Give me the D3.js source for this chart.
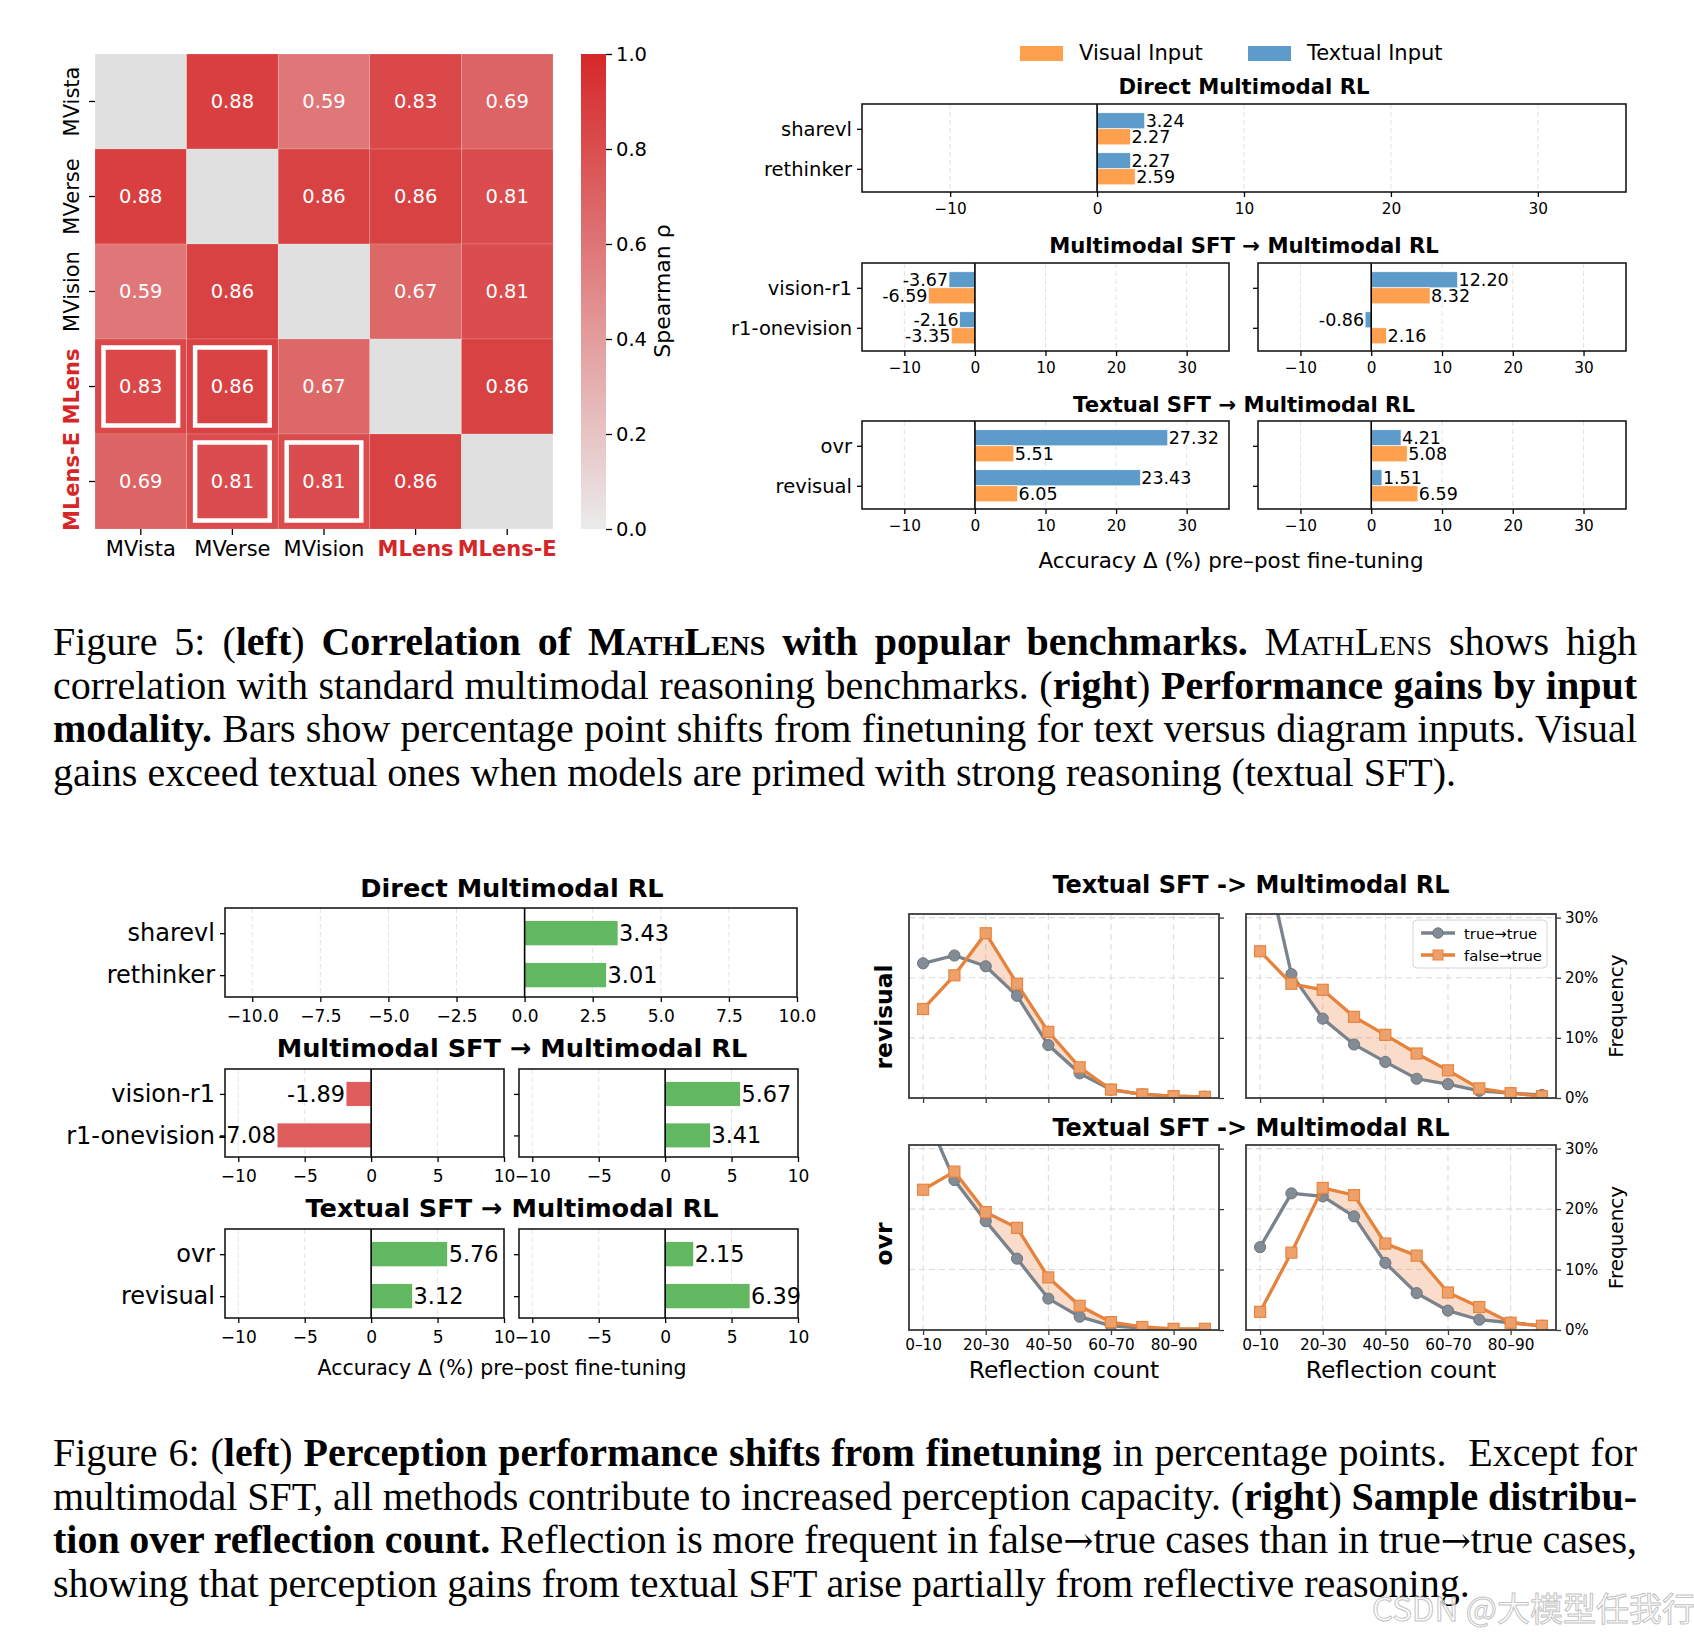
<!DOCTYPE html>
<html><head><meta charset="utf-8">
<script src="https://cdn.jsdelivr.net/npm/d3@7"></script>
<style>body{margin:0;background:#fff} svg{display:block}</style>
</head><body>
<svg id="c" width="1694" height="1637"></svg>
<script>
// ================= DATA =================
// Figure 5 (left): Spearman correlation heatmap
const hmLabels = ["MVista", "MVerse", "MVision", "MLens", "MLens-E"];
const hmRedLabels = ["MLens", "MLens-E"];
const hmRowMVista  = [null, 0.88, 0.59, 0.83, 0.69];
const hmRowMVerse  = [0.88, null, 0.86, 0.86, 0.81];
const hmRowMVision = [0.59, 0.86, null, 0.67, 0.81];
const hmRowMLens   = [0.83, 0.86, 0.67, null, 0.86];
const hmRowMLensE  = [0.69, 0.81, 0.81, 0.86, null];
const hmHighlight = [[3, 0], [3, 1], [4, 1], [4, 2]];
const cbTicks = [0, 0.2, 0.4, 0.6, 0.8, 1.0];

// Figure 5 (right): gains by input modality
const modTitles = ["Direct Multimodal RL", "Multimodal SFT \u2192 Multimodal RL", "Textual SFT \u2192 Multimodal RL"];
const modCats1 = ["sharevl", "rethinker"];
const modTextual1 = [3.24, 2.27];
const modVisual1 = [2.27, 2.59];
const modCats2 = ["vision-r1", "r1-onevision"];
const modTextual2L = [-3.67, -2.16];
const modVisual2L = [-6.59, -3.35];
const modTextual2R = [12.20, -0.86];
const modVisual2R = [8.32, 2.16];
const modCats3 = ["ovr", "revisual"];
const modTextual3L = [27.32, 23.43];
const modVisual3L = [5.51, 6.05];
const modTextual3R = [4.21, 1.51];
const modVisual3R = [5.08, 6.59];
const modTicks = [-10, 0, 10, 20, 30];
const modLegend = ["Visual Input", "Textual Input"];

// Figure 6 (left): perception shifts
const percCats1 = ["sharevl", "rethinker"];
const perc1 = [3.43, 3.01];
const percCats2 = ["vision-r1", "r1-onevision"];
const perc2L = [-1.89, -7.08];
const perc2R = [5.67, 3.41];
const percCats3 = ["ovr", "revisual"];
const perc3L = [5.76, 3.12];
const perc3R = [2.15, 6.39];
const percTicksA = [-10, -7.5, -5, -2.5, 0, 2.5, 5, 7.5, 10];
const percTicksB = [-10, -5, 0, 5, 10];

// Figure 6 (right): reflection count distribution (%)
const reflBins = ["0\u201310", "10\u201320", "20\u201330", "30\u201340", "40\u201350", "50\u201360", "60\u201370", "70\u201380", "80\u201390", "90\u2013100"];
const reflTitle = "Textual SFT -> Multimodal RL";
const reflRows = ["revisual", "ovr"];
const revisualLeftTT  = [22.4, 23.7, 21.9, 17.0, 8.8, 4.1, 1.4, 0.6, 0.3, 0.2];
const revisualLeftFT  = [14.8, 20.4, 27.4, 19.0, 11.0, 5.1, 1.4, 0.6, 0.3, 0.2];
const revisualRightTT = [43.5, 20.6, 13.2, 8.9, 6.0, 3.2, 2.3, 1.2, 0.8, 0.5];
const revisualRightFT = [24.4, 19.0, 18.0, 13.5, 10.5, 7.4, 4.6, 1.6, 0.8, 0.3];
const ovrLeftTT  = [36.7, 24.8, 18.0, 11.8, 5.2, 2.2, 0.7, 0.3, 0.1, 0.1];
const ovrLeftFT  = [23.2, 26.2, 19.5, 16.9, 8.7, 4.0, 1.3, 0.5, 0.2, 0.2];
const ovrRightTT = [13.7, 22.6, 22.1, 18.8, 11.1, 6.1, 3.2, 1.7, 1.2, 0.7];
const ovrRightFT = [3.0, 12.8, 23.5, 22.3, 14.3, 12.3, 6.2, 3.8, 1.2, 0.7];
const freqTicks = [0, 10, 20, 30];
const reflLegend = ["true\u2192true", "false\u2192true"];

// ================= DRAWING =================
const svg = d3.select("#c");
const FONT = "DejaVu Sans, sans-serif";
const SERIF = "Liberation Serif, 'Times New Roman', serif";
const C_BLUE = "#5d9cca", C_ORANGE = "#ffa04f", C_GREEN = "#61b861", C_RED = "#e05d5e";
const C_GRAYL = "#7a838c", C_ORL = "#e6823c";

function styleAxis(sel, fs, tickColor) {
  sel.select(".domain").remove();
  sel.attr("font-family", null).attr("font-size", null);
  sel.selectAll(".tick line").attr("stroke", tickColor || "#000").attr("stroke-width", 1.3);
  sel.selectAll(".tick text").attr("font-family", FONT).attr("font-size", fs).attr("fill", "#000");
}

// ---------- Heatmap ----------
(function () {
  const M = [hmRowMVista, hmRowMVerse, hmRowMVision, hmRowMLens, hmRowMLensE];
  const hx = d3.scaleBand().domain(d3.range(5)).range([95, 553]);
  const hy = d3.scaleBand().domain(d3.range(5)).range([54, 529]);
  const col = d3.scaleLinear().domain([0, 1]).range(["#ebebeb", "#d62728"]).interpolate(d3.interpolateRgb);
  const g = svg.append("g");
  const cells = [];
  M.forEach((row, r) => row.forEach((v, c) => cells.push({ r, c, v })));
  g.selectAll("rect.cell").data(cells).join("rect")
    .attr("x", d => hx(d.c)).attr("y", d => hy(d.r))
    .attr("width", hx.bandwidth()).attr("height", hy.bandwidth())
    .attr("fill", d => d.v == null ? "#e0e0e0" : col(d.v))
    .attr("stroke", "rgba(255,255,255,0.25)").attr("stroke-width", 0.6);
  g.selectAll("text.ann").data(cells.filter(d => d.v != null)).join("text")
    .attr("x", d => hx(d.c) + hx.bandwidth() / 2).attr("y", d => hy(d.r) + hy.bandwidth() / 2)
    .attr("text-anchor", "middle").attr("dominant-baseline", "central")
    .attr("font-family", FONT).attr("font-size", 19.5).attr("fill", "#fff")
    .text(d => d.v.toFixed(2));
  const ins = 8.5;
  g.selectAll("rect.hl").data(hmHighlight).join("rect")
    .attr("x", d => hx(d[1]) + ins).attr("y", d => hy(d[0]) + ins)
    .attr("width", hx.bandwidth() - 2 * ins).attr("height", hy.bandwidth() - 2 * ins)
    .attr("fill", "none").attr("stroke", "#fff").attr("stroke-width", 4.5);
  const ax = g.append("g").attr("transform", "translate(0,529)")
    .call(d3.axisBottom(hx).tickFormat(i => hmLabels[i]).tickSize(6).tickPadding(6));
  styleAxis(ax, 21);
  ax.selectAll(".tick text").attr("fill", i => hmRedLabels.includes(hmLabels[i]) ? "#d62728" : "#000")
    .attr("font-weight", i => hmRedLabels.includes(hmLabels[i]) ? "bold" : "normal");
  const ay = g.append("g").attr("transform", "translate(95,0)")
    .call(d3.axisLeft(hy).tickFormat("").tickSize(6));
  styleAxis(ay, 21);
  g.selectAll("text.ylab").data(hmLabels).join("text")
    .attr("transform", (d, i) => `translate(72,${hy(i) + hy.bandwidth() / 2}) rotate(-90)`)
    .attr("text-anchor", "middle").attr("dominant-baseline", "central")
    .attr("font-family", FONT).attr("font-size", 21)
    .attr("font-weight", d => hmRedLabels.includes(d) ? "bold" : "normal")
    .attr("fill", d => hmRedLabels.includes(d) ? "#d62728" : "#000")
    .text(d => d);
  const defs = svg.append("defs");
  const grad = defs.append("linearGradient").attr("id", "cbg").attr("x1", 0).attr("y1", 1).attr("x2", 0).attr("y2", 0);
  d3.range(0, 1.0001, 0.1).forEach(t => grad.append("stop").attr("offset", t).attr("stop-color", col(t)));
  g.append("rect").attr("x", 581).attr("y", 54).attr("width", 25).attr("height", 475).attr("fill", "url(#cbg)");
  const cby = d3.scaleLinear().domain([0, 1]).range([529, 54]);
  const ac = g.append("g").attr("transform", "translate(606,0)")
    .call(d3.axisRight(cby).tickValues(cbTicks).tickFormat(d3.format(".1f")).tickSize(6).tickPadding(4));
  styleAxis(ac, 19.5);
  g.append("text").attr("transform", "translate(662,291) rotate(-90)")
    .attr("text-anchor", "middle").attr("dominant-baseline", "central")
    .attr("font-family", FONT).attr("font-size", 22).text("Spearman \u03c1");
})();

// ---------- Bar panel helpers ----------
function barPanel(box, xDom, yDom, ticks, tickFmt, cats, showCats, fsTick, fsCat, pad) {
  const x = d3.scaleLinear().domain(xDom).range([box.x0, box.x1]);
  const y = d3.scaleLinear().domain(yDom).range([box.y0, box.y1]);
  const g = svg.append("g");
  g.selectAll("line.grid").data(ticks).join("line")
    .attr("x1", d => x(d)).attr("x2", d => x(d)).attr("y1", box.y0).attr("y2", box.y1)
    .attr("stroke", "#e2e2e2").attr("stroke-width", 1).attr("stroke-dasharray", "5,3");
  const bars = g.append("g");
  const fin = () => {
    g.append("line").attr("x1", x(0)).attr("x2", x(0)).attr("y1", box.y0).attr("y2", box.y1)
      .attr("stroke", "#000").attr("stroke-width", 1.6);
    g.append("rect").attr("x", box.x0).attr("y", box.y0).attr("width", box.x1 - box.x0).attr("height", box.y1 - box.y0)
      .attr("fill", "none").attr("stroke", "#1a1a1a").attr("stroke-width", 1.6);
    const ax = g.append("g").attr("transform", `translate(0,${box.y1})`)
      .call(d3.axisBottom(x).tickValues(ticks).tickFormat(tickFmt).tickSize(5).tickPadding(pad));
    styleAxis(ax, fsTick);
    const ay = g.append("g").attr("transform", `translate(${box.x0},0)`)
      .call(d3.axisLeft(y).tickValues(d3.range(cats.length)).tickFormat(i => showCats ? cats[i] : "").tickSize(5).tickPadding(5));
    styleAxis(ay, fsCat);
  };
  return { x, y, g: bars, fin, top: g };
}
function valueLabel(g, x, yc, v, fs) {
  g.append("text")
    .attr("x", v >= 0 ? x(v) + 1 : x(v) - 1).attr("y", yc)
    .attr("text-anchor", v >= 0 ? "start" : "end").attr("dominant-baseline", "central")
    .attr("font-family", FONT).attr("font-size", fs).text(v.toFixed(2));
}

// ---------- Figure 5 right ----------
(function () {
  const yDom = [-0.62, 1.58];
  const fmt = d3.format("d");
  const h = 0.4;
  function draw(box, cats, textual, visual, showCats) {
    const p = barPanel(box, [-16, 36], yDom, modTicks, fmt, cats, showCats, 15.3, 19.5, 6);
    cats.forEach((c, i) => {
      const tv = textual[i], vv = visual[i];
      p.g.append("rect").attr("x", p.x(Math.min(0, tv))).attr("width", Math.abs(p.x(tv) - p.x(0)))
        .attr("y", p.y(i - h)).attr("height", p.y(i) - p.y(i - h)).attr("fill", C_BLUE)
        .attr("stroke", "#fff").attr("stroke-width", 0.6);
      p.g.append("rect").attr("x", p.x(Math.min(0, vv))).attr("width", Math.abs(p.x(vv) - p.x(0)))
        .attr("y", p.y(i)).attr("height", p.y(i + h) - p.y(i)).attr("fill", C_ORANGE)
        .attr("stroke", "#fff").attr("stroke-width", 0.6);
    });
    p.fin();
    cats.forEach((c, i) => {
      valueLabel(p.top, p.x, p.y(i - h / 2), textual[i], 17.5);
      valueLabel(p.top, p.x, p.y(i + h / 2), visual[i], 17.5);
    });
  }
  draw({ x0: 862, x1: 1626, y0: 104, y1: 192 }, modCats1, modTextual1, modVisual1, true);
  draw({ x0: 862, x1: 1229, y0: 263, y1: 351 }, modCats2, modTextual2L, modVisual2L, true);
  draw({ x0: 1258, x1: 1626, y0: 263, y1: 351 }, modCats2, modTextual2R, modVisual2R, false);
  draw({ x0: 862, x1: 1229, y0: 421, y1: 509 }, modCats3, modTextual3L, modVisual3L, true);
  draw({ x0: 1258, x1: 1626, y0: 421, y1: 509 }, modCats3, modTextual3R, modVisual3R, false);
  const ty = [86, 245, 404];
  modTitles.forEach((t, i) => svg.append("text").attr("x", 1244).attr("y", ty[i])
    .attr("text-anchor", "middle").attr("dominant-baseline", "central")
    .attr("font-family", FONT).attr("font-size", 21.2).attr("font-weight", "bold").text(t));
  svg.append("text").attr("x", 1231).attr("y", 560).attr("text-anchor", "middle").attr("dominant-baseline", "central")
    .attr("font-family", FONT).attr("font-size", 21.4).text("Accuracy \u0394 (%) pre\u2013post fine-tuning");
  const lx = [1020, 1248], lc = [C_ORANGE, C_BLUE];
  modLegend.forEach((t, i) => {
    svg.append("rect").attr("x", lx[i]).attr("y", 46).attr("width", 43).attr("height", 15).attr("fill", lc[i]);
    svg.append("text").attr("x", lx[i] + 59).attr("y", 53).attr("dominant-baseline", "central")
      .attr("font-family", FONT).attr("font-size", 21).text(t);
  });
})();

// ---------- Figure 6 left ----------
(function () {
  const yDom = [-0.6, 1.52];
  const h = 0.6;
  function draw(box, cats, vals, ticks, fmt, showCats) {
    const p = barPanel(box, [-11, 10], yDom, ticks, fmt, cats, showCats, 17, 24, 8);
    vals.forEach((v, i) => {
      p.g.append("rect").attr("x", p.x(Math.min(0, v))).attr("width", Math.abs(p.x(v) - p.x(0)))
        .attr("y", p.y(i - h / 2)).attr("height", p.y(i + h / 2) - p.y(i - h / 2))
        .attr("fill", v >= 0 ? C_GREEN : C_RED).attr("stroke", "#fff").attr("stroke-width", 0.8);
    });
    p.fin();
    vals.forEach((v, i) => valueLabel(p.top, p.x, p.y(i), v, 22.4));
  }
  draw({ x0: 225, x1: 797, y0: 908, y1: 997 }, percCats1, perc1, percTicksA, d3.format(".1f"), true);
  draw({ x0: 225, x1: 504, y0: 1069, y1: 1157 }, percCats2, perc2L, percTicksB, d3.format("d"), true);
  draw({ x0: 519, x1: 798, y0: 1069, y1: 1157 }, percCats2, perc2R, percTicksB, d3.format("d"), false);
  draw({ x0: 225, x1: 504, y0: 1229, y1: 1318 }, percCats3, perc3L, percTicksB, d3.format("d"), true);
  draw({ x0: 519, x1: 798, y0: 1229, y1: 1318 }, percCats3, perc3R, percTicksB, d3.format("d"), false);
  const ty = [888, 1048, 1208];
  modTitles.forEach((t, i) => svg.append("text").attr("x", 512).attr("y", ty[i])
    .attr("text-anchor", "middle").attr("dominant-baseline", "central")
    .attr("font-family", FONT).attr("font-size", 25.6).attr("font-weight", "bold").text(t));
  svg.append("text").attr("x", 502).attr("y", 1368).attr("text-anchor", "middle").attr("dominant-baseline", "central")
    .attr("font-family", FONT).attr("font-size", 20.5).text("Accuracy \u0394 (%) pre\u2013post fine-tuning");
})();

// ---------- Figure 6 right ----------
(function () {
  const defs = svg.select("defs");
  let cid = 0;
  function draw(box, tt, ft, showX, showYLab, legend) {
    const x = d3.scaleLinear().domain([-0.45, 9.45]).range([box.x0, box.x1]);
    const y = d3.scaleLinear().domain([0, 30.6]).range([box.y1, box.y0]);
    const g = svg.append("g");
    const id = "clip" + (cid++);
    defs.append("clipPath").attr("id", id).append("rect")
      .attr("x", box.x0).attr("y", box.y0).attr("width", box.x1 - box.x0).attr("height", box.y1 - box.y0);
    const xt = [0, 2, 4, 6, 8];
    g.selectAll("line.gx").data(xt).join("line").attr("x1", d => x(d)).attr("x2", d => x(d))
      .attr("y1", box.y0).attr("y2", box.y1).attr("stroke", "#dcdcdc").attr("stroke-dasharray", "6,4").attr("stroke-width", 1.1);
    g.selectAll("line.gy").data([10, 20, 30]).join("line").attr("y1", d => y(d)).attr("y2", d => y(d))
      .attr("x1", box.x0).attr("x2", box.x1).attr("stroke", "#dcdcdc").attr("stroke-dasharray", "6,4").attr("stroke-width", 1.1);
    const pg = g.append("g").attr("clip-path", `url(#${id})`);
    const pts = [];
    for (let i = 0; i < tt.length; i++) {
      pts.push({ x: i, lo: tt[i], hi: Math.max(tt[i], ft[i]) });
      if (i < tt.length - 1) {
        const d0 = ft[i] - tt[i], d1 = ft[i + 1] - tt[i + 1];
        if (d0 * d1 < 0) {
          const t = d0 / (d0 - d1);
          const yy = tt[i] + t * (tt[i + 1] - tt[i]);
          pts.push({ x: i + t, lo: yy, hi: yy });
        }
      }
    }
    pg.append("path").datum(pts).attr("fill", "rgba(232,131,58,0.27)")
      .attr("d", d3.area().x(d => x(d.x)).y0(d => y(d.lo)).y1(d => y(d.hi)));
    const line = d3.line().x((d, i) => x(i)).y(d => y(d));
    pg.append("path").datum(tt).attr("fill", "none").attr("stroke", C_GRAYL).attr("stroke-width", 3.3).attr("d", line);
    pg.selectAll("circle").data(tt).join("circle").attr("cx", (d, i) => x(i)).attr("cy", d => y(d)).attr("r", 5.6)
      .attr("fill", "#838c95").attr("stroke", "#6d767f").attr("stroke-width", 1);
    pg.append("path").datum(ft).attr("fill", "none").attr("stroke", C_ORL).attr("stroke-width", 3.3).attr("d", line);
    pg.selectAll("rect.sq").data(ft).join("rect").attr("x", (d, i) => x(i) - 5.5).attr("y", d => y(d) - 5.5)
      .attr("width", 11).attr("height", 11).attr("fill", "#eea06a").attr("stroke", "#e7843f").attr("stroke-width", 1.2);
    g.append("rect").attr("x", box.x0).attr("y", box.y0).attr("width", box.x1 - box.x0).attr("height", box.y1 - box.y0)
      .attr("fill", "none").attr("stroke", "#3a3a3a").attr("stroke-width", 1.8);
    const ax = g.append("g").attr("transform", `translate(0,${box.y1})`)
      .call(d3.axisBottom(x).tickValues(xt).tickFormat(i => showX ? reflBins[i] : "").tickSize(5).tickPadding(4));
    styleAxis(ax, 15.3, "#3a3a3a");
    const ay = g.append("g").attr("transform", `translate(${box.x1},0)`)
      .call(d3.axisRight(y).tickValues(freqTicks).tickFormat(d => showYLab ? d + "%" : "").tickSize(5).tickPadding(4));
    styleAxis(ay, 15, "#3a3a3a");
    if (showX) g.append("text").attr("x", (box.x0 + box.x1) / 2).attr("y", 1370).attr("text-anchor", "middle")
      .attr("dominant-baseline", "central").attr("font-family", FONT).attr("font-size", 23.5).text("Reflection count");
    if (showYLab) g.append("text").attr("transform", `translate(1616,${(box.y0 + box.y1) / 2}) rotate(-90)`)
      .attr("text-anchor", "middle").attr("dominant-baseline", "central")
      .attr("font-family", FONT).attr("font-size", 20).text("Frequency");
    if (legend) {
      const lg = g.append("g");
      lg.append("rect").attr("x", 1413).attr("y", 920).attr("width", 134).attr("height", 48).attr("rx", 4)
        .attr("fill", "rgba(255,255,255,0.85)").attr("stroke", "#d6d6d6").attr("stroke-width", 1);
      const ly = [933, 955];
      lg.append("line").attr("x1", 1421).attr("x2", 1455).attr("y1", ly[0]).attr("y2", ly[0]).attr("stroke", C_GRAYL).attr("stroke-width", 3.3);
      lg.append("circle").attr("cx", 1438).attr("cy", ly[0]).attr("r", 5.2).attr("fill", "#838c95").attr("stroke", "#6d767f");
      lg.append("line").attr("x1", 1421).attr("x2", 1455).attr("y1", ly[1]).attr("y2", ly[1]).attr("stroke", C_ORL).attr("stroke-width", 3.3);
      lg.append("rect").attr("x", 1433).attr("y", ly[1] - 5).attr("width", 10).attr("height", 10).attr("fill", "#eea06a").attr("stroke", "#e7843f");
      reflLegend.forEach((t, i) => lg.append("text").attr("x", 1464).attr("y", ly[i]).attr("dominant-baseline", "central")
        .attr("font-family", FONT).attr("font-size", 14.8).text(t));
    }
  }
  draw({ x0: 909, x1: 1219, y0: 914, y1: 1098 }, revisualLeftTT, revisualLeftFT, false, false, false);
  draw({ x0: 1246, x1: 1556, y0: 914, y1: 1098 }, revisualRightTT, revisualRightFT, false, true, true);
  draw({ x0: 909, x1: 1219, y0: 1145, y1: 1330 }, ovrLeftTT, ovrLeftFT, true, false, false);
  draw({ x0: 1246, x1: 1556, y0: 1145, y1: 1330 }, ovrRightTT, ovrRightFT, true, true, false);
  [885, 1128].forEach(yy => svg.append("text").attr("x", 1251).attr("y", yy).attr("text-anchor", "middle")
    .attr("dominant-baseline", "central").attr("font-family", FONT).attr("font-size", 24).attr("font-weight", "bold").text(reflTitle));
  [1017, 1244].forEach((yy, i) => svg.append("text").attr("transform", `translate(884,${yy}) rotate(-90)`)
    .attr("text-anchor", "middle").attr("dominant-baseline", "central")
    .attr("font-family", FONT).attr("font-size", 23.4).attr("font-weight", "bold").text(reflRows[i]));
})();

// ---------- Captions ----------
// segment styles: n normal, b bold, c small caps, a arrow glyph
const cap5 = [
  [["Figure 5: (", "n"], ["left", "b"], [") ", "n"], ["Correlation of ", "b"], ["MathLens", "bc"], [" with popular benchmarks.", "b"], [" ", "n"], ["MathLens", "c"], [" shows high", "n"]],
  [["correlation with standard multimodal reasoning benchmarks. (", "n"], ["right", "b"], [") ", "n"], ["Performance gains by input", "b"]],
  [["modality.", "b"], [" Bars show percentage point shifts from finetuning for text versus diagram inputs. Visual", "n"]],
  [["gains exceed textual ones when models are primed with strong reasoning (textual SFT).", "n"]]
];
const cap6 = [
  [["Figure 6: (", "n"], ["left", "b"], [") ", "n"], ["Perception performance shifts from finetuning", "b"], [" in percentage points.  Except for", "n"]],
  [["multimodal SFT, all methods contribute to increased perception capacity. (", "n"], ["right", "b"], [") ", "n"], ["Sample distribu-", "b"]],
  [["tion over reflection count.", "b"], [" Reflection is more frequent in false", "n"], ["\u2192", "a"], ["true cases than in true", "n"], ["\u2192", "a"], ["true cases,", "n"]],
  [["showing that perception gains from textual SFT arise partially from reflective reasoning.", "n"]]
];
function caption(lines, y0) {
  const lh = 43.6, x0 = 53, W = 1584;
  lines.forEach((segs, li) => {
    const t = svg.append("text").attr("x", x0).attr("y", y0 + li * lh)
      .attr("font-family", SERIF).attr("font-size", 40).style("white-space", "pre").attr("fill", "#000");
    segs.forEach(([s, st]) => {
      const ts = t.append("tspan").text(s)
        .attr("font-weight", st.includes("b") ? "bold" : "normal")
        .attr("font-variant", st.includes("c") ? "small-caps" : "normal");
      if (st === "a") ts.attr("font-family", "DejaVu Serif, serif").attr("font-size", 36);
    });
    if (li < lines.length - 1) {
      const w = t.node().getComputedTextLength();
      const n = segs.map(s => s[0]).join("").split(" ").length - 1;
      t.attr("word-spacing", (W - w) / n);
    }
  });
}
caption(cap5, 655);
caption(cap6, 1466);

// watermark
svg.append("text").attr("x", 1372).attr("y", 1621)
  .attr("font-family", "'Noto Sans CJK SC', sans-serif").attr("font-size", 33)
  .attr("fill", "rgba(255,255,255,0.7)").attr("stroke", "#c4c4c4").attr("stroke-width", 1)
  .text("CSDN @\u5927\u6a21\u578b\u4efb\u6211\u884c");
</script>
</body></html>
